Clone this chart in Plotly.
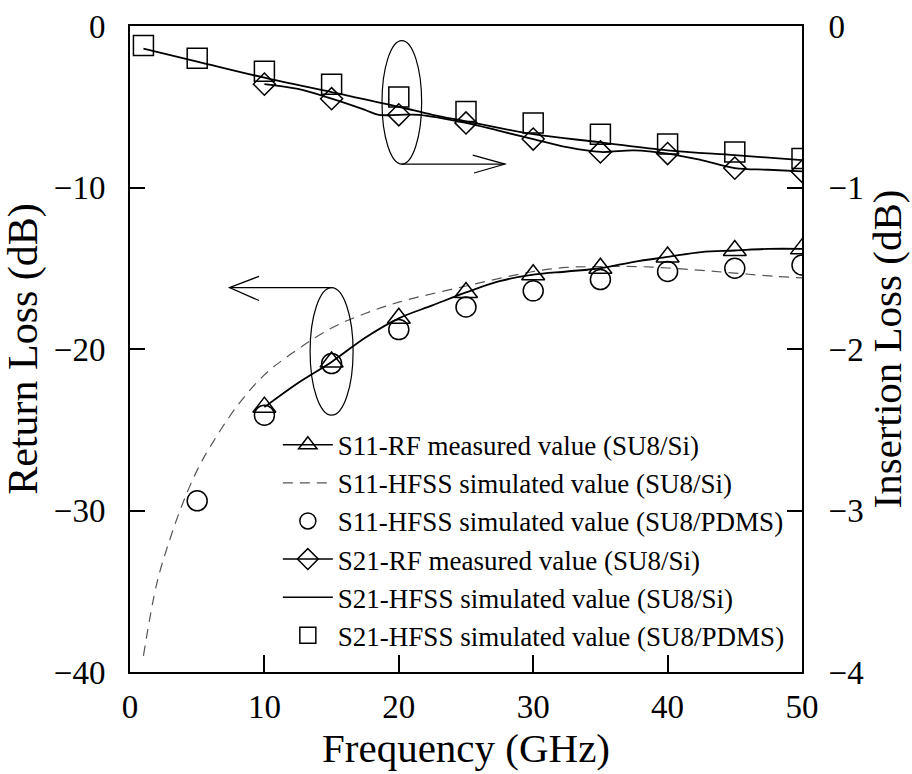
import plotly.graph_objects as go

# ---------------- data ----------------
# S11 (left axis, dB)
s11_meas_x = [10, 12.5, 15, 17.5, 20, 22.5, 25, 27.5, 30, 32.5, 35, 37.5, 40, 42.5, 45, 47.5, 50]
s11_meas_y = [-23.6, -22.1, -20.8, -19.3, -18.1, -17.3, -16.5, -15.8, -15.4, -15.2, -15.0, -14.6, -14.3, -14.0, -13.9, -13.8, -13.8]

s11_sim_si_x = [1, 2, 3, 4, 5, 6, 8, 10, 12, 15, 17.5, 20, 25, 30, 32.5, 35, 38, 42, 45, 48, 50]
s11_sim_si_y = [-39.0, -34.5, -31.7, -29.4, -27.5, -26.0, -23.5, -21.6, -20.3, -18.7, -17.8, -17.1, -16.1, -15.2, -14.95, -14.9, -14.9, -15.1, -15.3, -15.5, -15.6]

s11_sim_pdms_x = [5, 10, 15, 20, 25, 30, 35, 40, 45, 50]
s11_sim_pdms_y = [-29.4, -24.1, -20.9, -18.8, -17.4, -16.4, -15.7, -15.2, -15.0, -14.8]

# S21 (right axis, dB)
s21_meas_x = [10, 12.5, 15, 17.5, 18.5, 20, 21.5, 25, 27.5, 30, 32.5, 35, 37.5, 40, 42.5, 45, 47.5, 50]
s21_meas_y = [-0.36, -0.39, -0.45, -0.52, -0.55, -0.55, -0.55, -0.60, -0.65, -0.70, -0.75, -0.78, -0.77, -0.79, -0.83, -0.88, -0.89, -0.90]

s21_sim_si_x = [1, 5, 10, 15, 20, 22.5, 25, 30, 35, 40, 45, 50]
s21_sim_si_y = [-0.14, -0.22, -0.32, -0.41, -0.50, -0.55, -0.59, -0.67, -0.72, -0.77, -0.80, -0.83]

s21_sim_pdms_x = [1, 5, 10, 15, 20, 25, 30, 35, 40, 45, 50]
s21_sim_pdms_y = [-0.12, -0.20, -0.28, -0.36, -0.44, -0.53, -0.60, -0.67, -0.73, -0.78, -0.82]

x_ticks = [0, 10, 20, 30, 40, 50]
y_ticks = [-40, -30, -20, -10, 0]
y2_ticks = [-4, -3, -2, -1, 0]

names = [
    "S11-RF measured value (SU8/Si)",
    "S11-HFSS simulated value (SU8/Si)",
    "S11-HFSS simulated value (SU8/PDMS)",
    "S21-RF measured value (SU8/Si)",
    "S21-HFSS simulated value (SU8/Si)",
    "S21-HFSS simulated value (SU8/PDMS)",
]

FONT = "Liberation Serif"
BLACK = "black"


def every5(xs, ys):
    px, py = [], []
    for a, b in zip(xs, ys):
        if abs(a / 5 - round(a / 5)) < 1e-9:
            px.append(a)
            py.append(b)
    return px, py


fig = go.Figure()

# ---- S11 traces ----
fig.add_trace(go.Scatter(x=s11_sim_si_x, y=s11_sim_si_y, mode="lines", name=names[1],
                         line=dict(color="#555555", width=1.2, dash="10px,7px"),
                         line_shape="spline", showlegend=False))
fig.add_trace(go.Scatter(x=s11_sim_pdms_x, y=s11_sim_pdms_y, mode="markers", name=names[2],
                         marker=dict(symbol="circle-open", size=20, color=BLACK, line=dict(width=1.5, color=BLACK)),
                         showlegend=False))
fig.add_trace(go.Scatter(x=s11_meas_x, y=s11_meas_y, mode="lines", name=names[0],
                         line=dict(color=BLACK, width=1.8), line_shape="spline", showlegend=False))
mx, my = every5(s11_meas_x, s11_meas_y)
fig.add_trace(go.Scatter(x=mx, y=my, mode="markers", name=names[0],
                         marker=dict(symbol="triangle-up-open", size=20, color=BLACK, line=dict(width=1.5, color=BLACK)),
                         showlegend=False))

# ---- S21 traces (right axis) ----
fig.add_trace(go.Scatter(x=s21_sim_si_x, y=s21_sim_si_y, mode="lines", name=names[4], yaxis="y2",
                         line=dict(color=BLACK, width=1.8), line_shape="spline", showlegend=False))
fig.add_trace(go.Scatter(x=s21_meas_x, y=s21_meas_y, mode="lines", name=names[3], yaxis="y2",
                         line=dict(color=BLACK, width=1.8), line_shape="spline", showlegend=False))
dx, dy = every5(s21_meas_x, s21_meas_y)
fig.add_trace(go.Scatter(x=dx, y=dy, mode="markers", name=names[3], yaxis="y2",
                         marker=dict(symbol="diamond-open", size=17, color=BLACK, line=dict(width=1.5, color=BLACK)),
                         showlegend=False))
fig.add_trace(go.Scatter(x=s21_sim_pdms_x, y=s21_sim_pdms_y, mode="markers", name=names[5], yaxis="y2",
                         marker=dict(symbol="square-open", size=20, color=BLACK, line=dict(width=1.5, color=BLACK)),
                         showlegend=False))

# ---- legend entries ----
legend_styles = [
    dict(mode="lines+markers", line=dict(color=BLACK, width=1.5),
         marker=dict(symbol="triangle-up-open", size=20, color=BLACK, line=dict(width=1.5, color=BLACK))),
    dict(mode="lines", line=dict(color="#555555", width=1.2, dash="10px,7px")),
    dict(mode="markers", marker=dict(symbol="circle-open", size=20, color=BLACK, line=dict(width=1.5, color=BLACK))),
    dict(mode="lines+markers", line=dict(color=BLACK, width=1.5),
         marker=dict(symbol="diamond-open", size=17, color=BLACK, line=dict(width=1.5, color=BLACK))),
    dict(mode="lines", line=dict(color=BLACK, width=1.5)),
    dict(mode="markers", marker=dict(symbol="square-open", size=20, color=BLACK, line=dict(width=1.5, color=BLACK))),
]
for nm, st in zip(names, legend_styles):
    fig.add_trace(go.Scatter(x=[None], y=[None], name=nm, showlegend=True, **st))

# ---- decorations: ellipses and arrows ----
shapes = [
    dict(type="circle", xref="x", yref="y", x0=18.75, x1=21.7, y0=-8.55, y1=-0.9,
         line=dict(color=BLACK, width=1.2)),
    dict(type="path", xref="x", yref="y", path="M20.2,-8.55 L27.9,-8.55",
         line=dict(color=BLACK, width=1.2)),
    dict(type="path", xref="x", yref="y", path="M25.5,-8.0 L27.9,-8.55 L25.6,-9.1",
         line=dict(color=BLACK, width=1.2)),
    dict(type="circle", xref="x", yref="y", x0=13.4, x1=16.6, y0=-24.1, y1=-16.2,
         line=dict(color=BLACK, width=1.2)),
    dict(type="path", xref="x", yref="y", path="M15.0,-16.2 L7.4,-16.2",
         line=dict(color=BLACK, width=1.2)),
    dict(type="path", xref="x", yref="y", path="M9.6,-15.5 L7.4,-16.2 L9.6,-17.0",
         line=dict(color=BLACK, width=1.2)),
]

fig.update_layout(
    width=912, height=774,
    margin=dict(l=130, r=110, t=26, b=102, autoexpand=False),
    paper_bgcolor="white", plot_bgcolor="white",
    font=dict(family=FONT, color=BLACK),
    shapes=shapes,
    showlegend=True,
    legend=dict(x=0.22, y=0.389, xanchor="left", yanchor="top",
                font=dict(family=FONT, size=27, color=BLACK),
                bgcolor="rgba(0,0,0,0)", itemwidth=50, tracegroupgap=0),
    xaxis=dict(range=[0, 50], tickvals=x_ticks, ticks="inside", ticklen=17, tickwidth=1.5,
               tickcolor=BLACK, showline=True, linecolor=BLACK, linewidth=2, mirror=True,
               showgrid=False, zeroline=False, tickfont=dict(size=33, family=FONT),
               ticklabelstandoff=4, automargin=False,
               title=dict(text="Frequency (GHz)", font=dict(size=41, family=FONT), standoff=4)),
    yaxis=dict(range=[-40, 0], tickvals=y_ticks, ticks="inside", ticklen=15, tickwidth=1.5,
               tickcolor=BLACK, showline=True, linecolor=BLACK, linewidth=2, mirror=False,
               showgrid=False, zeroline=False, tickfont=dict(size=33, family=FONT),
               ticklabelstandoff=16, automargin=False,
               title=dict(text="Return Loss (dB)", font=dict(size=42, family=FONT), standoff=10)),
    yaxis2=dict(range=[-4, 0], tickvals=y2_ticks, ticks="inside", ticklen=15, tickwidth=1.5,
                tickcolor=BLACK, showline=True, linecolor=BLACK, linewidth=2,
                overlaying="y", side="right", anchor="x",
                showgrid=False, zeroline=False, tickfont=dict(size=33, family=FONT),
                ticklabelstandoff=18, automargin=False,
                title=dict(text="Insertion Loss (dB)", font=dict(size=41, family=FONT), standoff=10)),
)

# remove the default page margin so the 912x774 figure fills the window exactly
fig.write_html("out.html",
               config={"displayModeBar": False},
               post_script="document.body.style.margin='0px';document.body.style.overflow='hidden';")
